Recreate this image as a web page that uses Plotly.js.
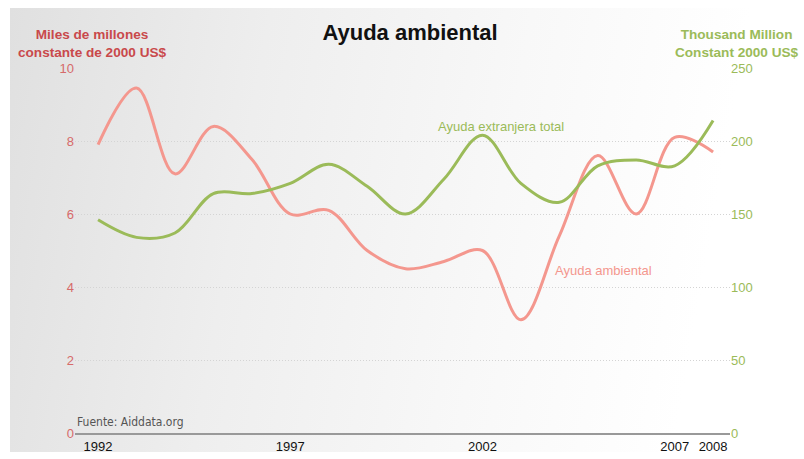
<!DOCTYPE html>
<html>
<head>
<meta charset="utf-8">
<script src="https://cdn.plot.ly/plotly-3.0.1.min.js"></script>
<style>
  html, body { margin: 0; padding: 0; background: #ffffff; }
  #wrap { position: relative; width: 804px; height: 459px; overflow: hidden; }
  #bg { position: absolute; left: 10px; top: 8px; width: 794px; height: 444px;
        background: linear-gradient(100deg, #e0e0e0 0%, #eeeeee 30%, #f8f8f8 60%, #ffffff 85%); }
  #chart { position: absolute; left: 0; top: 0; width: 804px; height: 459px; }
</style>
</head>
<body>
<div id="wrap">
  <div id="bg"></div>
  <div id="chart"></div>
</div>
<script>
const years = [1992,1993,1994,1995,1996,1997,1998,1999,2000,2001,2002,2003,2004,2005,2006,2007,2008];
const ayudaAmbiental = [7.9,9.45,7.1,8.4,7.5,6.0,6.1,5.0,4.5,4.7,5.0,3.1,5.4,7.6,6.0,8.1,7.7];
const ayudaExtranjera = [146,134,137,164,164,171,184,169,150,174,204,171,158,183,187,183,214];
const xTicks = [1992,1997,2002,2007,2008];
const leftTicks = [0,2,4,6,8,10];
const rightTicks = [0,50,100,150,200,250];

const traces = [
  { x: years, y: ayudaAmbiental, type: 'scatter', mode: 'lines', yaxis: 'y',
    line: { color: '#f4978e', width: 3, shape: 'spline', smoothing: 1 }, hoverinfo: 'skip' },
  { x: years, y: ayudaExtranjera, type: 'scatter', mode: 'lines', yaxis: 'y2',
    line: { color: '#9bbb59', width: 3, shape: 'spline', smoothing: 1 }, hoverinfo: 'skip' }
];

const layout = {
  width: 804, height: 459,
  margin: { l: 75, r: 74, t: 68, b: 26 },
  paper_bgcolor: 'rgba(0,0,0,0)',
  plot_bgcolor: 'rgba(0,0,0,0)',
  showlegend: false,
  font: { family: 'Liberation Sans, Arial, sans-serif' },
  title: { text: 'Ayuda ambiental', x: 0.51, xanchor: 'center', y: 0.93, yanchor: 'middle',
           font: { family: 'Liberation Sans, Arial, sans-serif', size: 22, color: '#111', weight: 'bold' } },
  xaxis: { range: [1991.4, 2008.44], tickvals: xTicks, ticktext: xTicks.map(String),
           showgrid: false, zeroline: false, showline: true, linecolor: '#999', linewidth: 2,
           ticks: '', tickfont: { size: 13, color: '#111' }, ticklabelstandoff: 0 },
  yaxis: { range: [0, 10], tickvals: leftTicks, showgrid: true, gridcolor: '#d4d4d4', griddash: '1px,2px',
           gridwidth: 1, zeroline: false, showline: false, ticks: '', tickfont: { size: 13, color: '#d66a6a' } },
  yaxis2: { range: [0, 250], tickvals: rightTicks, overlaying: 'y', side: 'right', showgrid: false,
            zeroline: false, showline: false, ticks: '', tickfont: { size: 13, color: '#9bbb59' } },
  annotations: [
    { text: '<b>Miles de millones<br>constante de 2000 US$</b>', xref: 'paper', yref: 'paper',
      x: 0.027, y: 1.066, xanchor: 'center', yanchor: 'middle', showarrow: false, align: 'center',
      font: { size: 13.6, color: '#c9494b' } },
    { text: '<b>Thousand Million<br>Constant 2000 US$</b>', xref: 'paper', yref: 'paper',
      x: 1.108, y: 1.066, xanchor: 'right', yanchor: 'middle', showarrow: false, align: 'center',
      font: { size: 13.6, color: '#9bbb59' } },
    { text: 'Ayuda extranjera total', xref: 'x', yref: 'y', x: 2002.47, y: 8.41,
      showarrow: false, font: { size: 13, color: '#9bbb59' } },
    { text: 'Ayuda ambiental', xref: 'x', yref: 'y', x: 2005.15, y: 4.44,
      showarrow: false, font: { size: 13, color: '#f4978e' } },
    { text: 'Fuente: Aiddata.org', xref: 'paper', yref: 'paper', x: 0.0, y: 0.005,
      xanchor: 'left', yanchor: 'bottom', showarrow: false,
      font: { family: 'Liberation Sans Narrow, DejaVu Sans Condensed, sans-serif', size: 12, color: '#555' } }
  ]
};

Plotly.newPlot('chart', traces, layout, { staticPlot: true, displayModeBar: false });
</script>
</body>
</html>
